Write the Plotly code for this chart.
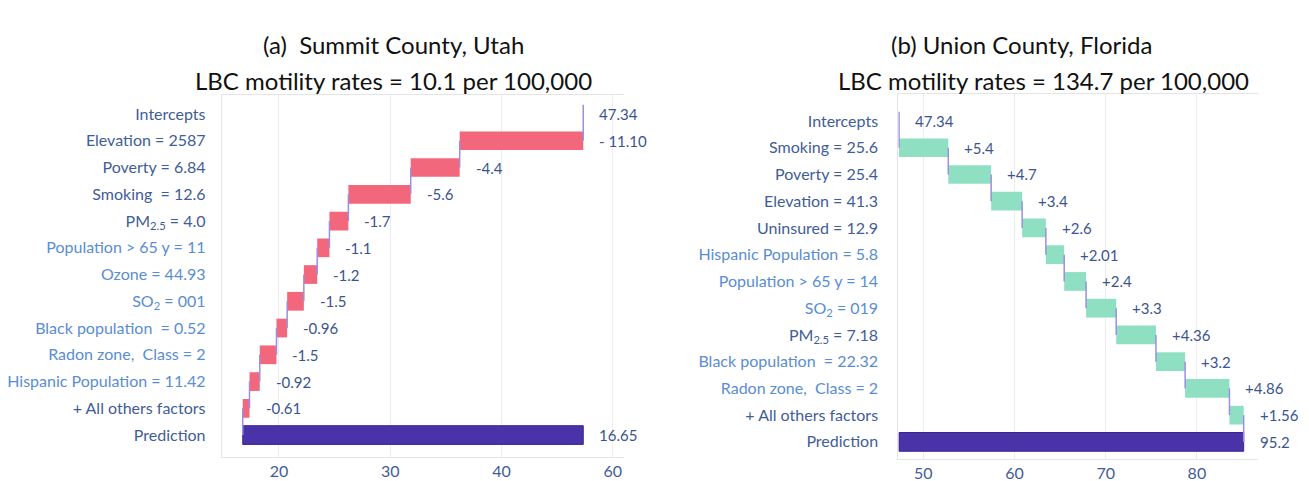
import plotly.graph_objects as go

# ---- data -------------------------------------------------------------
intercept = 47.34

left_labels = [
    "Intercepts", "Elevation = 2587", "Poverty = 6.84", "Smoking  = 12.6",
    "PM<sub>2.5</sub> = 4.0", "Population > 65 y = 11", "Ozone = 44.93",
    "SO<sub>2</sub> = 001", "Black population  = 0.52", "Radon zone,  Class = 2",
    "Hispanic Population = 11.42", "+ All others factors", "Prediction",
]
left_light = [False, False, False, False, False, True, True, True, True, True, True, False, False]
left_contrib = [-11.10, -4.4, -5.6, -1.7, -1.1, -1.2, -1.5, -0.96, -1.5, -0.92, -0.61]
left_text = ["47.34", "- 11.10", "-4.4", "-5.6", "-1.7", "-1.1", "-1.2", "-1.5",
             "-0.96", "-1.5", "-0.92", "-0.61", "16.65"]
left_ticks = [20, 30, 40, 50]
left_ticktext = ["20", "30", "40", "60"]

right_labels = [
    "Intercepts", "Smoking = 25.6", "Poverty = 25.4", "Elevation = 41.3",
    "Uninsured = 12.9", "Hispanic Population = 5.8", "Population > 65 y = 14",
    "SO<sub>2</sub> = 019", "PM<sub>2.5</sub> = 7.18", "Black population  = 22.32",
    "Radon zone,  Class = 2", "+ All others factors", "Prediction",
]
right_light = [False, False, False, False, False, True, True, True, False, True, True, False, False]
right_contrib = [5.4, 4.7, 3.4, 2.6, 2.01, 2.4, 3.3, 4.36, 3.2, 4.86, 1.56]
right_text = ["47.34", "+5.4", "+4.7", "+3.4", "+2.6", "+2.01", "+2.4", "+3.3",
              "+4.36", "+3.2", "+4.86", "+1.56", "95.2"]
right_ticks = [50, 60, 70, 80]

# ---- styling ----------------------------------------------------------
FONT = "Lato"
DARK = "#3f5d98"
LIGHT = "#5a8dd2"
VALUE = "#3b5490"
RED = "#f2677c"
GREEN = "#8fe0c2"
INDIGO = "#4a33a8"
CONNECT = "#9a8fe0"
GRID = "#ececf1"

fig = go.Figure()


def add_panel(contrib, texts, labels, light, color, xa, ya):
    n = len(contrib)
    rows = list(range(1, n + 1))
    cum = [intercept]
    for c in contrib:
        cum.append(cum[-1] + c)
    bases = cum[:-1]

    # connectors: intercept stub, step joins and link to the prediction bar
    cx, cy = [intercept, intercept, None], [-0.35, 1, None]
    for i in range(1, n):
        cx += [cum[i], cum[i], None]
        cy += [i, i + 1, None]
    cx += [cum[n], cum[n]]
    cy += [n, n + 1]

    fig.add_trace(go.Bar(
        orientation="h", y=rows, x=contrib, base=bases, width=0.7,
        marker=dict(color=color, line=dict(width=0)),
        xaxis=xa, yaxis=ya, showlegend=False, hoverinfo="skip"))
    lo, hi = sorted([intercept, cum[n]])
    fig.add_trace(go.Bar(
        orientation="h", y=[n + 1], x=[hi - lo], base=[lo], width=0.7,
        marker=dict(color=INDIGO, line=dict(color="#3a2590", width=1)),
        xaxis=xa, yaxis=ya, showlegend=False, hoverinfo="skip"))
    fig.add_trace(go.Scatter(
        x=cx, y=cy, mode="lines", line=dict(color=CONNECT, width=1.5),
        xaxis=xa, yaxis=ya, showlegend=False, hoverinfo="skip"))

    # value labels right of each mark
    right_ends = [intercept] + [max(b, b + c) for b, c in zip(bases, contrib)] + [hi]
    for r, (xe, t) in enumerate(zip(right_ends, texts)):
        fig.add_annotation(
            x=xe, y=r, xref=xa, yref=ya, text=t,
            showarrow=False, xanchor="left", xshift=14,
            font=dict(family=FONT, size=15, color=VALUE))

    ticktext = [f"<span style='color:{LIGHT if l else DARK}'>{lab}</span>"
                for lab, l in zip(labels, light)]
    return ticktext


lt = add_panel(left_contrib, left_text, left_labels, left_light, RED, "x", "y")
rt = add_panel(right_contrib, right_text, right_labels, right_light, GREEN, "x2", "y2")

axis_common = dict(
    showgrid=True, gridcolor=GRID, gridwidth=1, zeroline=False,
    showline=True, linecolor="#e4e4ea", mirror=True, ticks="", automargin=False,
    ticklabelstandoff=0, tickfont=dict(family=FONT, size=16, color=DARK),
)
yaxis_common = dict(
    tickvals=list(range(13)), showgrid=False, zeroline=False, showline=True,
    linecolor="#e4e4ea", automargin=False,
    tickfont=dict(family=FONT, size=16, color=DARK),
)

fig.update_layout(
    width=1309, height=481,
    margin=dict(l=0, r=0, t=0, b=0),
    paper_bgcolor="white", plot_bgcolor="white",
    barmode="overlay",
    xaxis=dict(domain=[221.7 / 1309, 624 / 1309], range=[14.86, 51],
               tickvals=left_ticks, ticktext=left_ticktext, anchor="y", **axis_common),
    yaxis=dict(domain=[1 - 457 / 481, 1 - 95 / 481], range=[12.82, -0.71],
               ticktext=lt, anchor="x", ticklabelstandoff=12, **yaxis_common),
    xaxis2=dict(domain=[898.3 / 1309, 1258 / 1309], range=[47.26, 86.7],
                tickvals=right_ticks, anchor="y2", **axis_common),
    yaxis2=dict(domain=[1 - 459 / 481, 1 - 94 / 481], range=[12.64, -1.01],
                ticktext=rt, anchor="x2", ticklabelstandoff=16, **yaxis_common),
)

titles = [
    (393, 45, "(a)  Summit County, Utah"),
    (393, 80, "LBC motility rates = 10.1 per 100,000"),
    (1021, 45, "(b) Union County, Florida"),
    (1043, 80, "LBC motility rates = 134.7 per 100,000"),
]
for tx, ty, txt in titles:
    fig.add_annotation(x=tx / 1309, y=1 - ty / 481, xref="paper", yref="paper",
                       text=txt, showarrow=False, xanchor="center", yanchor="middle",
                       font=dict(family=FONT, size=24, color="#111111"))

fig.write_html("out.html")
